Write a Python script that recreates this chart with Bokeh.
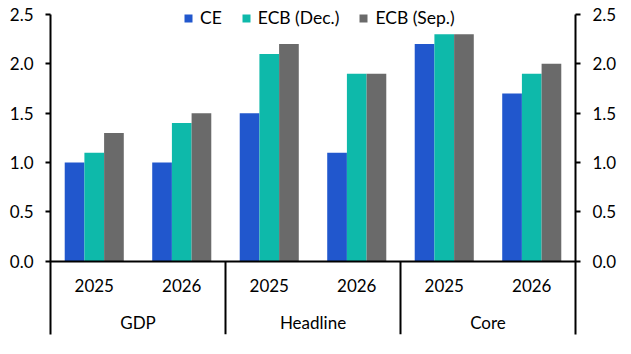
from bokeh.plotting import figure
from bokeh.models import (FactorRange, ColumnDataSource, Legend, LegendItem, LinearAxis,
                          FixedTicker, Range1d, NumeralTickFormatter)
from bokeh.core.properties import value
from bokeh.transform import dodge
from bokeh.embed import file_html
from bokeh.resources import INLINE

groups = ["GDP", "Headline", "Core"]
years = ["2025", "2026"]
series = ["CE", "ECB (Dec.)", "ECB (Sep.)"]
ce = [1.0, 1.0, 1.5, 1.1, 2.2, 1.7]
ecb_dec = [1.1, 1.4, 2.1, 1.9, 2.3, 1.9]
ecb_sep = [1.3, 1.5, 2.2, 1.9, 2.3, 2.0]
y_ticks = [0.0, 0.5, 1.0, 1.5, 2.0, 2.5]
colors = ["#2157cd", "#0eb9aa", "#6a6a6a"]

FONT = "Lato"
FS = "17px"
YMIN = -0.74
YMAX = 2.6

factors = [(g, y) for g in groups for y in years]
src = ColumnDataSource(dict(x=factors, ce=ce, dec=ecb_dec, sep=ecb_sep))

xr = FactorRange(*factors, factor_padding=0, group_padding=0, subgroup_padding=0, range_padding=0)
p = figure(width=631, height=354, x_range=xr, y_range=Range1d(YMIN, YMAX),
           output_backend="svg", toolbar_location=None,
           min_border_left=50, min_border_right=56, min_border_top=4, min_border_bottom=20)
p.outline_line_color = None
p.xgrid.grid_line_color = None
p.ygrid.grid_line_color = None

bw = 0.225
renderers = []
for off, col, c in zip([-bw, 0, bw], ["ce", "dec", "sep"], colors):
    r = p.vbar(x=dodge("x", off, range=xr), top=col, width=bw, source=src,
               fill_color=c, line_color=None)
    renderers.append(r)

# separators between groups (synthetic coordinates)
n = len(years)
bx = [n * i for i in range(1, len(groups))]
p.segment(x0=bx, x1=bx, y0=[0] * len(bx), y1=[YMIN] * len(bx), line_color="black", line_width=2)

# group labels (synthetic coordinates: group centres)
gx = [n * i + n / 2 for i in range(len(groups))]
p.text(x=gx, y=[-0.62] * len(groups), text=groups, text_align="center", text_baseline="middle",
       text_font=value(FONT), text_font_size=FS, text_color="black")

# y axes
right = LinearAxis()
p.add_layout(right, "right")
for ax in [p.yaxis[0], right]:
    ax.ticker = FixedTicker(ticks=y_ticks)
    ax.formatter = NumeralTickFormatter(format="0.0")
    ax.bounds = (YMIN, y_ticks[-1])
    ax.axis_line_width = 2
    ax.major_tick_line_width = 2
    ax.major_tick_out = 5
    ax.major_tick_in = 0
    ax.minor_tick_line_color = None
    ax.major_label_standoff = 12
    ax.major_label_text_font = FONT
    ax.major_label_text_font_size = FS
    ax.major_label_text_color = "black"

xa = p.xaxis[0]
xa.fixed_location = 0
xa.axis_line_width = 2
xa.major_tick_line_color = None
xa.minor_tick_line_color = None
xa.major_label_text_font = FONT
xa.major_label_text_font_size = FS
xa.major_label_text_color = "black"
xa.major_label_standoff = 12
xa.group_text_color = None
xa.separator_line_color = None

legend = Legend(items=[LegendItem(label=s, renderers=[r]) for s, r in zip(series, renderers)],
                orientation="horizontal", location=(133, 306),
                glyph_width=10, glyph_height=10, label_standoff=7, spacing=19,
                padding=0, margin=0, border_line_color=None, background_fill_alpha=0,
                label_text_font=FONT, label_text_font_size="17.5px", label_height=20,
                label_text_color="black")
p.add_layout(legend)

open("out.html", "w").write(file_html(p, INLINE))
